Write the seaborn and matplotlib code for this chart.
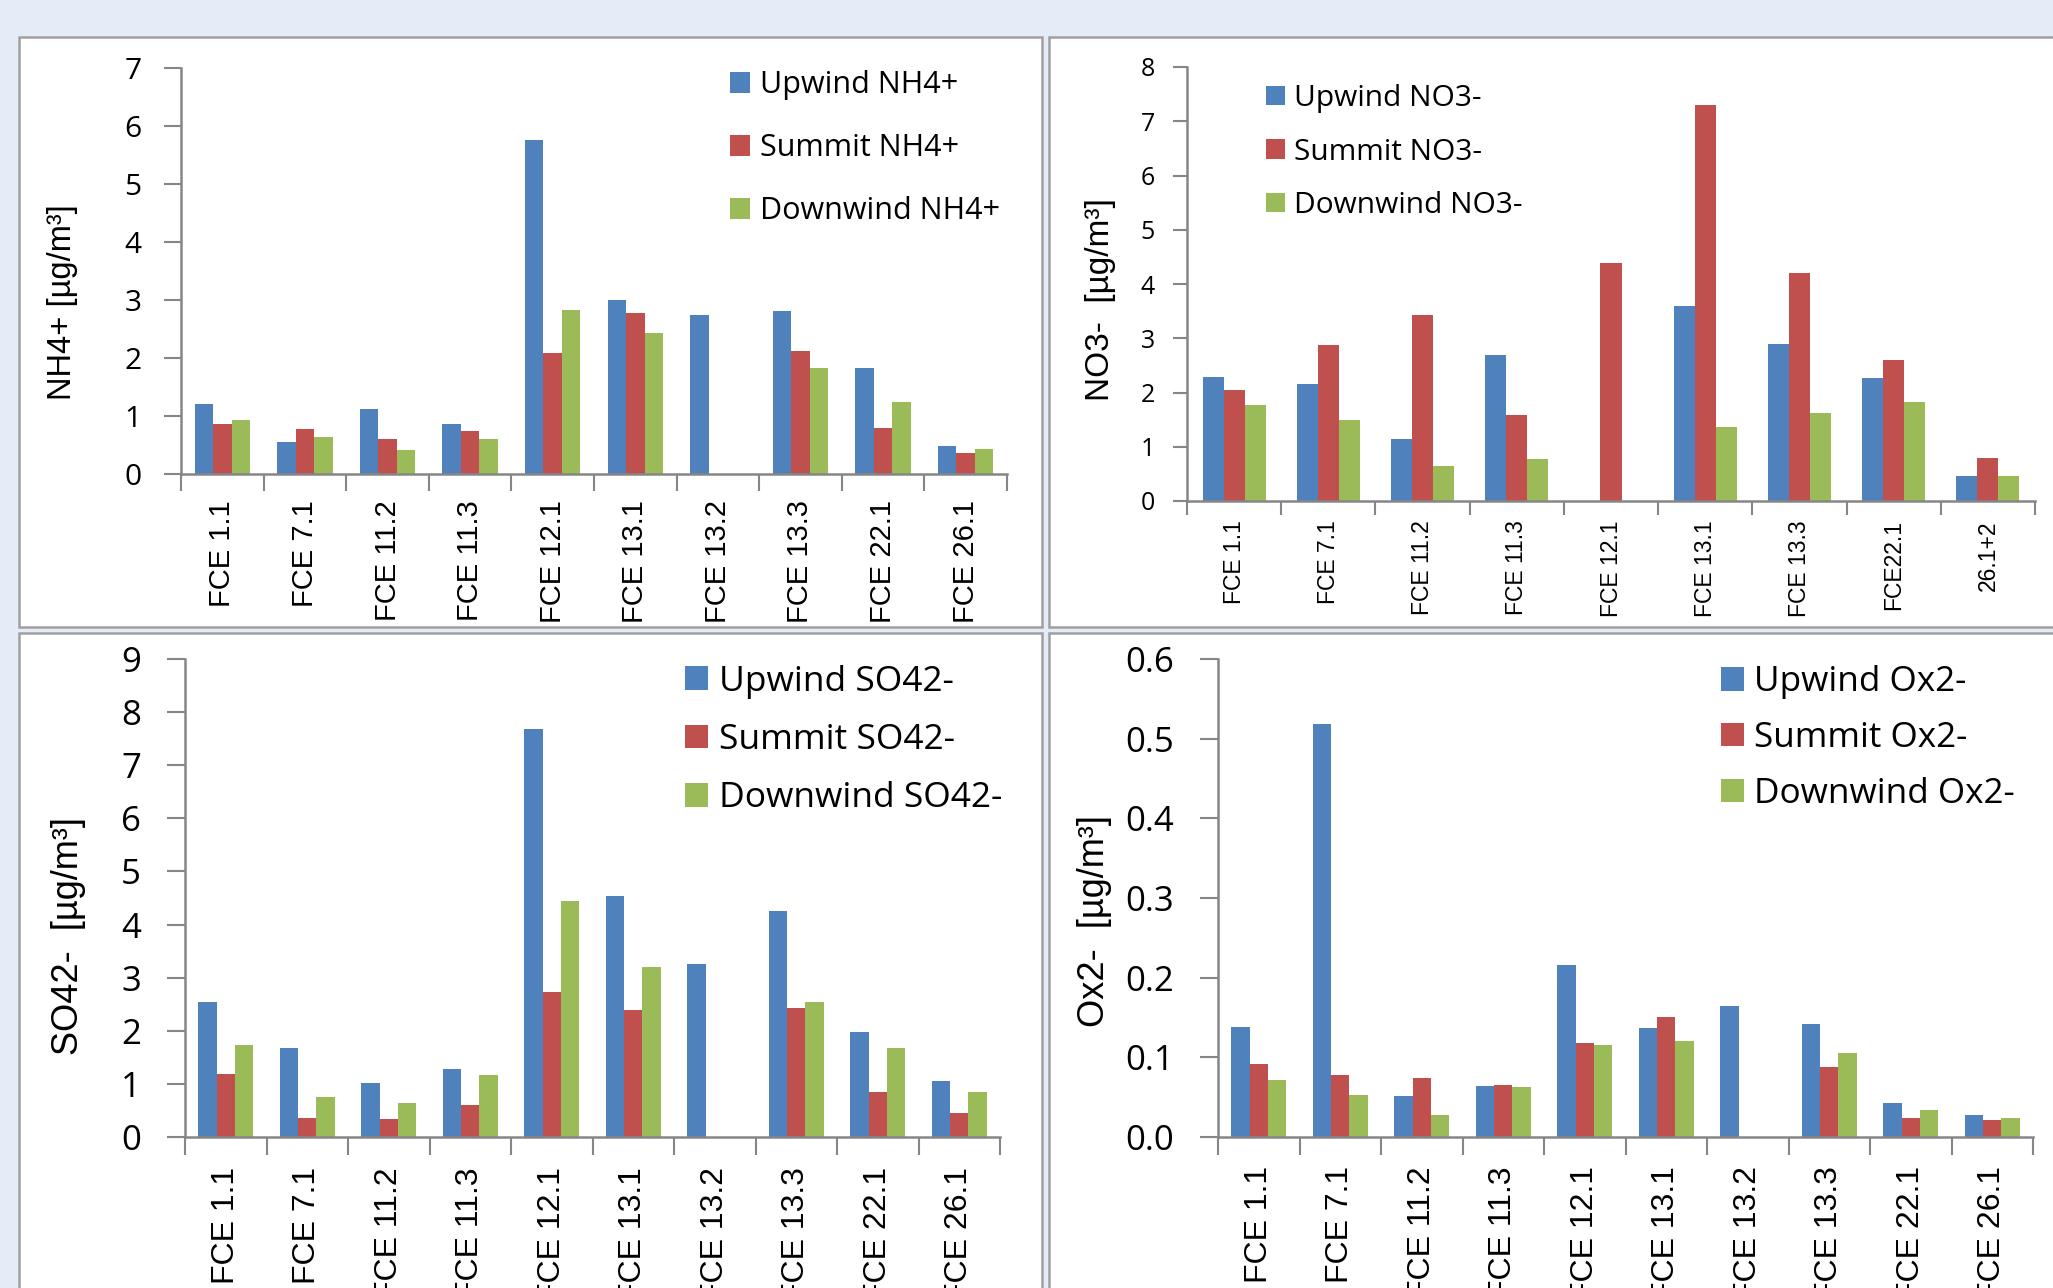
import numpy as np
import pandas as pd
import matplotlib.pyplot as plt
from matplotlib.patches import Rectangle
from matplotlib.ticker import FormatStrFormatter
import seaborn as sns

nan = np.nan

sites = ["FCE 1.1", "FCE 7.1", "FCE 11.2", "FCE 11.3", "FCE 12.1",
         "FCE 13.1", "FCE 13.2", "FCE 13.3", "FCE 22.1", "FCE 26.1"]
no3_sites = ["FCE 1.1", "FCE 7.1", "FCE 11.2", "FCE 11.3", "FCE 12.1",
             "FCE 13.1", "FCE 13.3", "FCE22.1", "26.1+2"]

nh4_up = [1.21, 0.55, 1.12, 0.86, 5.76, 3.00, 2.74, 2.81, 1.82, 0.48]
nh4_sum = [0.87, 0.77, 0.61, 0.74, 2.09, 2.78, nan, 2.12, 0.79, 0.37]
nh4_down = [0.93, 0.63, 0.41, 0.60, 2.83, 2.43, nan, 1.82, 1.25, 0.43]

no3_up = [2.29, 2.15, 1.15, 2.69, nan, 3.59, 2.90, 2.27, 0.47]
no3_sum = [2.05, 2.87, 3.43, 1.58, 4.39, 7.30, 4.20, 2.60, 0.80]
no3_down = [1.77, 1.50, 0.64, 0.78, nan, 1.36, 1.63, 1.82, 0.47]

so4_up = [2.54, 1.67, 1.01, 1.28, 7.69, 4.53, 3.25, 4.25, 1.98, 1.05]
so4_sum = [1.18, 0.36, 0.33, 0.61, 2.73, 2.39, nan, 2.42, 0.84, 0.46]
so4_down = [1.74, 0.76, 0.64, 1.16, 4.45, 3.21, nan, 2.54, 1.67, 0.85]

ox_up = [0.138, 0.518, 0.051, 0.064, 0.216, 0.137, 0.165, 0.142, 0.043, 0.027]
ox_sum = [0.092, 0.078, 0.074, 0.065, 0.118, 0.151, nan, 0.088, 0.024, 0.021]
ox_down = [0.071, 0.053, 0.027, 0.063, 0.116, 0.121, nan, 0.106, 0.034, 0.024]

colors = ["#4F81BD", "#C0504D", "#9BBB59"]
grey = "#868686"

W, H = 2053, 1288
fig = plt.figure(figsize=(W / 100, H / 100), dpi=100)
fig.patch.set_facecolor("#E4ECF7")

# white chart frames (pixel boxes: left, top, right, bottom)
for l, t, r, b in [(19, 37, 1042, 627), (1049, 37, 2070, 627),
                   (19, 633, 1042, 1310), (1049, 633, 2070, 1310)]:
    fig.add_artist(Rectangle((l / W, 1 - b / H), (r - l) / W, (b - t) / H,
                             transform=fig.transFigure, facecolor="white",
                             edgecolor="#A0A0A0", lw=1.8, zorder=-5))


def panel(box, cats, values, ion, ylabel, yticks, st):
    l, t, r, b = box
    ax = fig.add_axes([l / W, 1 - b / H, (r - l) / W, (b - t) / H])
    ax.patch.set_alpha(0)
    names = [f"Upwind {ion}", f"Summit {ion}", f"Downwind {ion}"]
    df = pd.DataFrame({
        "site": np.tile(cats, 3),
        "series": np.repeat(names, len(cats)),
        "value": np.concatenate(values),
    })
    sns.barplot(data=df, x="site", y="value", hue="series", order=cats,
                hue_order=names, palette=colors, saturation=1, width=0.67,
                errorbar=None, linewidth=0, ax=ax)

    n = len(cats)
    ax.set_xlim(-0.5, n - 0.5)
    ax.set_ylim(yticks[0], yticks[-1])
    ax.set_yticks(yticks)
    ax.set_xticks(np.arange(n + 1) - 0.5, minor=True)
    ax.tick_params(axis="x", which="major", length=0, pad=st["xpad"],
                   labelrotation=90, labelsize=st["xfs"],
                   labelfontfamily="Liberation Sans")
    ax.tick_params(axis="x", which="minor", length=st["tlen"], width=1.5,
                   color=grey)
    ax.tick_params(axis="y", length=st["tlen"], width=1.5, color=grey,
                   pad=st["ypad"], labelsize=st["yfs"],
                   labelfontfamily="Open Sans")
    for s in ["top", "right"]:
        ax.spines[s].set_visible(False)
    for s in ["left", "bottom"]:
        ax.spines[s].set_color(grey)
        ax.spines[s].set_linewidth(1.8)

    ax.set_xlabel("")
    ax.set_ylabel(ylabel, fontsize=st["lfs"], family="Liberation Sans",
                  va="center")
    lx, ly = st["lab"]
    ax.yaxis.set_label_coords(lx / W, 1 - ly / H, transform=fig.transFigure)

    leg = ax.get_legend()
    handles = leg.legend_handles
    labels = [tx.get_text() for tx in leg.get_texts()]
    fs = st["gfs"]
    em = fs * 100 / 72
    sqx, midy, sq, txt, ls = st["leg"]
    ax.legend(handles, labels, loc="center left",
              bbox_to_anchor=(sqx / W, 1 - midy / H),
              bbox_transform=fig.transFigure, frameon=False,
              borderpad=0, borderaxespad=0,
              handlelength=sq / em, handleheight=sq / em,
              handletextpad=(txt - sqx - sq) / em, labelspacing=ls,
              prop={"family": "Open Sans", "size": fs})
    return ax


panel((181, 68, 1007, 474), sites, [nh4_up, nh4_sum, nh4_down], "NH4+",
      "NH4+ [µg/m³]", list(range(0, 8)),
      dict(xpad=18.7, xfs=21, tlen=12, ypad=16.5, yfs=21.5, lfs=23.5,
           lab=(62, 302), gfs=22, leg=(730, 148, 20, 760, 1.08)))

panel((1187, 67, 2035, 501), no3_sites, [no3_up, no3_sum, no3_down], "NO3-",
      "NO3-  [µg/m³]", list(range(0, 9)),
      dict(xpad=13.7, xfs=16.5, tlen=10, ypad=13, yfs=18, lfs=24,
           lab=(1100, 300), gfs=21.5, leg=(1266, 152, 19, 1294, 0.82)))

panel((185, 659, 1000, 1137), sites, [so4_up, so4_sum, so4_down], "SO42-",
      "SO42-  [µg/m³]", list(range(0, 10)),
      dict(xpad=21.6, xfs=23, tlen=13, ypad=18.7, yfs=25, lfs=26,
           lab=(69, 936), gfs=25.5, leg=(685, 740, 23, 719, 0.69)))

ax4 = panel((1218, 659, 2033, 1137), sites, [ox_up, ox_sum, ox_down], "Ox2-",
            "Ox2-  [µg/m³]", [0, 0.1, 0.2, 0.3, 0.4, 0.5, 0.6],
            dict(xpad=21, xfs=23, tlen=13, ypad=18.7, yfs=25, lfs=26,
                 lab=(1095, 921), gfs=25.3, leg=(1721, 738, 23, 1754, 0.62)))
ax4.yaxis.set_major_formatter(FormatStrFormatter("%.1f"))

fig.savefig("out.png", dpi=100, facecolor=fig.get_facecolor())
